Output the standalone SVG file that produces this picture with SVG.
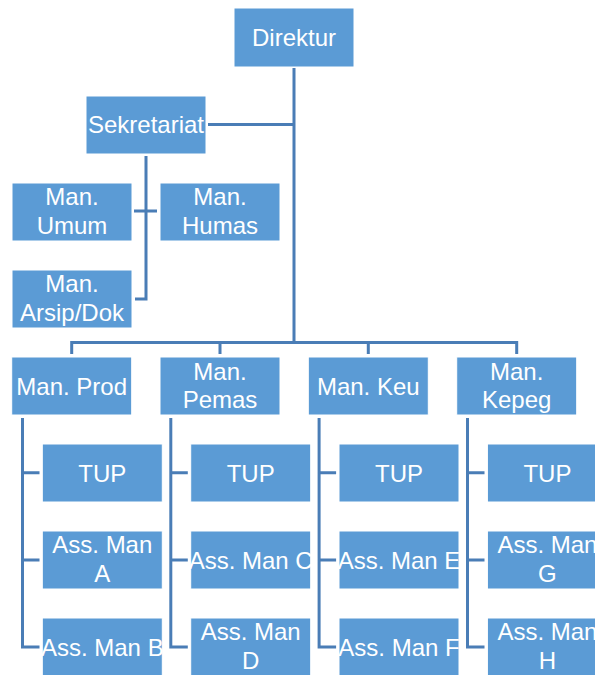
<svg xmlns="http://www.w3.org/2000/svg" width="595" height="675" viewBox="0 0 595 675">
<style>
.b{fill:#5b9bd5;stroke:#ffffff;stroke-width:1}
.t{font-family:"Liberation Sans",Arial,sans-serif;font-size:24px;fill:#ffffff;text-anchor:middle}
.c{fill:none;stroke:#4a7db6;stroke-width:3}
</style>
<rect width="595" height="675" fill="#ffffff"/>
<g id="connectors">
<path class="c" d="M294 68V343M208 124.5H294M146 156V299H135M134 211H157M71.7 354V342.5H516.7V354M220 342.5V354M368.3 342.5V354"/>
<path class="c" d="M22.5 418V647H39.5M22.5 472.7H39.5M22.5 560H39.5"/>
<path class="c" d="M170.8 418V647H187.8M170.8 472.7H187.8M170.8 560H187.8"/>
<path class="c" d="M319.1 418V647H336.1M319.1 472.7H336.1M319.1 560H336.1"/>
<path class="c" d="M467.5 418V647H484.5M467.5 472.7H484.5M467.5 560H484.5"/>
</g>
<g id="direktur"><rect class="b" x="234" y="8" width="120" height="59"/><text class="t" x="294" y="45.5">Direktur</text></g>
<g id="sekretariat"><rect class="b" x="86" y="96" width="120" height="58"/><text class="t" x="146" y="133">Sekretariat</text></g>
<g id="man-umum"><rect class="b" x="12" y="183" width="120" height="58"/><text class="t" x="72" y="205">Man.</text><text class="t" x="72" y="234">Umum</text></g>
<g id="man-humas"><rect class="b" x="160" y="183" width="120" height="58"/><text class="t" x="220" y="205">Man.</text><text class="t" x="220" y="234">Humas</text></g>
<g id="man-arsip"><rect class="b" x="12" y="270" width="120" height="58"/><text class="t" x="72" y="292">Man.</text><text class="t" x="72" y="321">Arsip/Dok</text></g>

<g id="man-prod"><rect class="b" x="11.7" y="357" width="120" height="58"/><text class="t" x="71.7" y="394.5">Man. Prod</text></g>
<g id="man-pemas"><rect class="b" x="160" y="357" width="120" height="58"/><text class="t" x="220" y="379.5">Man.</text><text class="t" x="220" y="407.5">Pemas</text></g>
<g id="man-keu"><rect class="b" x="308.3" y="357" width="120" height="58"/><text class="t" x="368.3" y="394.5">Man. Keu</text></g>
<g id="man-kepeg"><rect class="b" x="456.7" y="357" width="120" height="58"/><text class="t" x="516.7" y="379.5">Man.</text><text class="t" x="516.7" y="407.5">Kepeg</text></g>

<g id="tup-1"><rect class="b" x="42.3" y="444" width="120" height="58"/><text class="t" x="102.3" y="481.5">TUP</text></g>
<g id="ass-a"><rect class="b" x="42.3" y="531" width="120" height="58"/><text class="t" x="102.3" y="553">Ass. Man</text><text class="t" x="102.3" y="582">A</text></g>
<g id="ass-b"><rect class="b" x="42.3" y="618" width="120" height="58"/><text class="t" x="102.3" y="655.5">Ass. Man B</text></g>

<g id="tup-2"><rect class="b" x="190.7" y="444" width="120" height="58"/><text class="t" x="250.7" y="481.5">TUP</text></g>
<g id="ass-c"><rect class="b" x="190.7" y="531" width="120" height="58"/><text class="t" x="250.7" y="568.5">Ass. Man C</text></g>
<g id="ass-d"><rect class="b" x="190.7" y="618" width="120" height="58"/><text class="t" x="250.7" y="640">Ass. Man</text><text class="t" x="250.7" y="669">D</text></g>

<g id="tup-3"><rect class="b" x="339" y="444" width="120" height="58"/><text class="t" x="399" y="481.5">TUP</text></g>
<g id="ass-e"><rect class="b" x="339" y="531" width="120" height="58"/><text class="t" x="399" y="568.5">Ass. Man E</text></g>
<g id="ass-f"><rect class="b" x="339" y="618" width="120" height="58"/><text class="t" x="399" y="655.5">Ass. Man F</text></g>

<g id="tup-4"><rect class="b" x="487.4" y="444" width="120" height="58"/><text class="t" x="547.4" y="481.5">TUP</text></g>
<g id="ass-g"><rect class="b" x="487.4" y="531" width="120" height="58"/><text class="t" x="547.4" y="553">Ass. Man</text><text class="t" x="547.4" y="582">G</text></g>
<g id="ass-h"><rect class="b" x="487.4" y="618" width="120" height="58"/><text class="t" x="547.4" y="640">Ass. Man</text><text class="t" x="547.4" y="669">H</text></g>
</svg>
